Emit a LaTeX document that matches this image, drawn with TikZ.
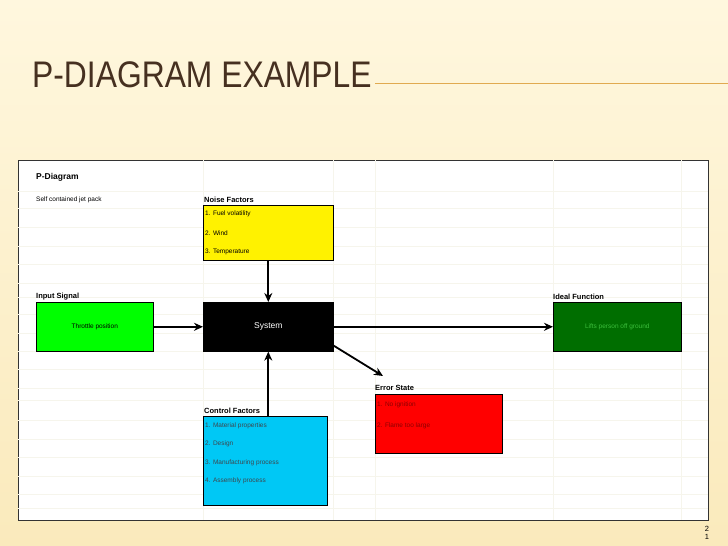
\documentclass[tikz,border=0pt]{standalone}
\usepackage{fontspec}
\setmainfont{Liberation Sans}
\usetikzlibrary{arrows.meta}
\definecolor{bg}{RGB}{250,234,188}
\definecolor{bgtop}{RGB}{255,247,222}
\definecolor{titlec}{RGB}{70,48,32}
\definecolor{rule}{RGB}{225,170,80}
\definecolor{gridc}{RGB}{246,245,236}
\definecolor{dgreen}{RGB}{0,110,0}
\definecolor{cyanb}{RGB}{0,200,245}
\definecolor{idealtxt}{RGB}{60,190,60}
\tikzset{
 lbl/.style={anchor=west,font=\fontsize{7.5}{8}\selectfont\bfseries,inner sep=0},
 itm/.style={anchor=west,font=\fontsize{6.5}{7}\selectfont,inner sep=0},
 box/.style={draw=black,line width=0.6pt,inner sep=0},
 arr/.style={-{Stealth[length=9pt,width=8pt]},line width=1.8pt}
}
\begin{document}
\begin{tikzpicture}[x=1pt,y=-1pt]
\useasboundingbox (0,0) rectangle (728,546);
\shade[top color=bgtop,bottom color=bg] (0,0) rectangle (728,546);
\draw[rule,line width=1pt] (375,83) -- (728,83);
\node[anchor=base west,inner sep=0,text=titlec,font=\fontsize{37}{40}\selectfont,xscale=0.86] (title) at (32,87) {P-DIAGRAM EXAMPLE};
% panel
\fill[white] (18,160) rectangle (708,520);
\draw[line width=0.8pt,black!80] (18,160) rectangle (708,520);
\foreach \x in {203,333,375,553,681} \draw[gridc,line width=0.4pt] (\x,160) -- (\x,520);
\foreach \y in {191,208,227,246,264,283,297,314,333,351,369,388,400,420,439,457,476,494,508} \draw[gridc,line width=0.4pt] (18,\y) -- (708,\y);
\node[anchor=west,inner sep=0,font=\fontsize{8.5}{10}\selectfont\bfseries] (pd) at (36,177) {P-Diagram};
\node[itm] (jet) at (36,200) {Self contained jet pack};
% noise
\node[lbl] (nl) at (204,200) {Noise Factors};
\node[box,fill=yellow,minimum width=130,minimum height=55,anchor=north west] (noise) at (203,205) {};
\node[itm] (n1) at (205,214) {1. Fuel volatility};
\node[itm] (n2) at (205,233) {2. Wind};
\node[itm] (n3) at (205,252) {3. Temperature};
% input
\node[lbl] (il) at (36,297) {Input Signal};
\node[box,fill=green,minimum width=117,minimum height=49,anchor=north west,font=\fontsize{6.5}{7}\selectfont] (input) at (36,302) {Throttle position};
% system
\node[box,fill=black,text=white,minimum width=130,minimum height=49,anchor=north west,font=\fontsize{8.5}{9}\selectfont] (sys) at (203,302) {System};
% ideal
\node[lbl] (fl) at (553,297) {Ideal Function};
\node[box,fill=dgreen,text=idealtxt,minimum width=128,minimum height=49,anchor=north west,font=\fontsize{6.5}{7}\selectfont] (ideal) at (553,302) {Lifts person off ground};
% error
\node[lbl] (el) at (375,388) {Error State};
\node[box,fill=red,minimum width=127,minimum height=59,anchor=north west] (err) at (375,394) {};
\node[itm,text=red!55!black] (e1) at (377,405) {1. No ignition};
\node[itm,text=red!55!black] (e2) at (377,426) {2. Flame too large};
% control
\node[lbl] (cl) at (204,411) {Control Factors};
\node[box,fill=cyanb,minimum width=124,minimum height=89,anchor=north west] (ctrl) at (203,416) {};
\node[itm,text=black!80!cyan] (c1) at (205,426) {1. Material properties};
\node[itm,text=black!80!cyan] (c2) at (205,444) {2. Design};
\node[itm,text=black!80!cyan] (c3) at (205,463) {3. Manufacturing process};
\node[itm,text=black!80!cyan] (c4) at (205,481) {4. Assembly process};
% arrows
\draw[arr] (noise.south -| sys.north) -- (sys.north);
\draw[arr] (ctrl.north -| sys.south) -- (sys.south);
\draw[arr] (input.east) -- (sys.west);
\draw[arr] (sys.east) -- (ideal.west);
\coordinate (et) at (383,376);
\draw[arr] (sys.south east) ++(0,-6) coordinate (se) (se) -- (et);
% page number
\node[inner sep=0,font=\fontsize{7.5}{8.5}\selectfont,align=center] (pg) at (707,533) {2\\1};
\end{tikzpicture}
\end{document}
